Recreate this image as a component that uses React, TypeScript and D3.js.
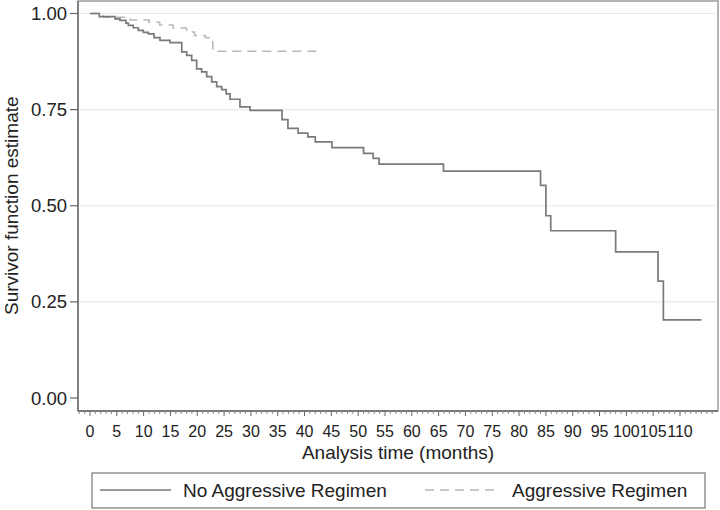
import React from "react";
import * as d3 from "d3";

const noAggTimes = [0, 1.73, 4.66, 5.59, 6.71, 7.14, 8.07, 9.0, 9.94, 10.87, 11.93, 13.05, 14.91, 17.1, 18.03, 18.96, 19.89, 20.82, 21.76, 22.69, 23.62, 24.55, 25.4, 26.1, 27.96, 29.83, 35.8, 36.9, 38.8, 40.6, 42.0, 45.1, 51.0, 52.8, 53.9, 65.9, 84.0, 85.0, 85.9, 98.0, 105.9, 106.9, 114.0];
const noAggSurv = [1.0, 0.992, 0.986, 0.982, 0.975, 0.969, 0.963, 0.956, 0.951, 0.947, 0.937, 0.930, 0.924, 0.900, 0.891, 0.878, 0.856, 0.848, 0.836, 0.822, 0.810, 0.802, 0.791, 0.777, 0.757, 0.748, 0.724, 0.701, 0.689, 0.679, 0.666, 0.651, 0.636, 0.623, 0.608, 0.590, 0.553, 0.474, 0.435, 0.380, 0.304, 0.203, 0.203];
const aggTimes = [0, 2.5, 7.5, 11, 13, 15.5, 18, 19.5, 21.5, 22.9, 43.1];
const aggSurv = [1.0, 0.99, 0.983, 0.977, 0.970, 0.962, 0.952, 0.943, 0.937, 0.902, 0.902];

const yTicks = [0, 0.25, 0.5, 0.75, 1.0];
const xMajorTicks = d3.range(0, 111, 5);
const xMinorTicks = d3.range(-2, 117, 1);
const seriesNames = ["No Aggressive Regimen", "Aggressive Regimen"];

const FONT = "'Liberation Sans', Arial, Helvetica, sans-serif";

export default function App() {
  const x = d3.scaleLinear().domain([0, 110]).range([90, 680]);
  const y = d3.scaleLinear().domain([0, 1]).range([398, 13.5]);
  const L = 78, R = 718, T = 1, B = 411;

  const line = d3
    .line<[number, number]>()
    .x((d) => x(d[0]))
    .y((d) => y(d[1]))
    .curve(d3.curveStepAfter);

  const noAggPath = line(noAggTimes.map((t, i) => [t, noAggSurv[i]]) as [number, number][]) || "";
  const aggPath = line(aggTimes.map((t, i) => [t, aggSurv[i]]) as [number, number][]) || "";

  return (
    <svg
      width={720}
      height={510}
      style={{ position: "absolute", left: 0, top: 0, background: "#fff" }}
      fontFamily={FONT}
    >
      <rect x={0} y={0} width={720} height={510} fill="#fff" />
      {yTicks
        .filter((v) => v > 0)
        .map((v) => (
          <line key={"g" + v} x1={L + 1} x2={R - 3} y1={y(v)} y2={y(v)} stroke="#e8e8e8" strokeWidth={1.2} />
        ))}
      <rect x={L} y={T} width={R - L} height={B - T} fill="none" stroke="#9a9a9a" strokeWidth={1.5} />
      <line x1={L} x2={L} y1={T} y2={B} stroke="#666" strokeWidth={1.3} />
      <line x1={L} x2={R} y1={B} y2={B} stroke="#666" strokeWidth={1.3} />
      {yTicks.map((v) => (
        <g key={"y" + v}>
          <line x1={70} x2={L} y1={y(v)} y2={y(v)} stroke="#666" strokeWidth={1.2} />
          <text x={67} y={y(v) + 6.5} textAnchor="end" fontSize={18.5} fill="#222">
            {v.toFixed(2)}
          </text>
        </g>
      ))}
      {xMinorTicks.map((t) => {
        const major = t % 5 === 0 && t >= 0 && t <= 110;
        return (
          <line key={"m" + t} x1={x(t)} x2={x(t)} y1={B} y2={B + (major ? 5 : 3)} stroke={major ? "#666" : "#888"} strokeWidth={1} />
        );
      })}
      {xMajorTicks.map((t) => (
        <text key={"xl" + t} x={x(t)} y={437} textAnchor="middle" fontSize={16} fill="#222">
          {t}
        </text>
      ))}
      <text x={(L + R) / 2} y={459} textAnchor="middle" fontSize={19} fill="#222">
        Analysis time (months)
      </text>
      <text
        transform={`translate(18,${(y(0) + y(1)) / 2}) rotate(-90)`}
        textAnchor="middle"
        fontSize={19}
        fill="#222"
      >
        Survivor function estimate
      </text>
      <path d={aggPath} fill="none" stroke="#b8b8b8" strokeWidth={1.5} strokeDasharray="9,6" />
      <path d={noAggPath} fill="none" stroke="#7a7a7a" strokeWidth={1.7} />
      <rect x={92} y={473} width={613} height={35} fill="#fff" stroke="#777" strokeWidth={1.2} />
      <line x1={100} x2={171} y1={490} y2={490} stroke="#7a7a7a" strokeWidth={1.5} />
      <text x={183} y={497} fontSize={19} fill="#222">
        {seriesNames[0]}
      </text>
      <line x1={425} x2={498} y1={490} y2={490} stroke="#b8b8b8" strokeWidth={1.5} strokeDasharray="9,6" />
      <text x={512} y={497} fontSize={19} fill="#222">
        {seriesNames[1]}
      </text>
    </svg>
  );
}
